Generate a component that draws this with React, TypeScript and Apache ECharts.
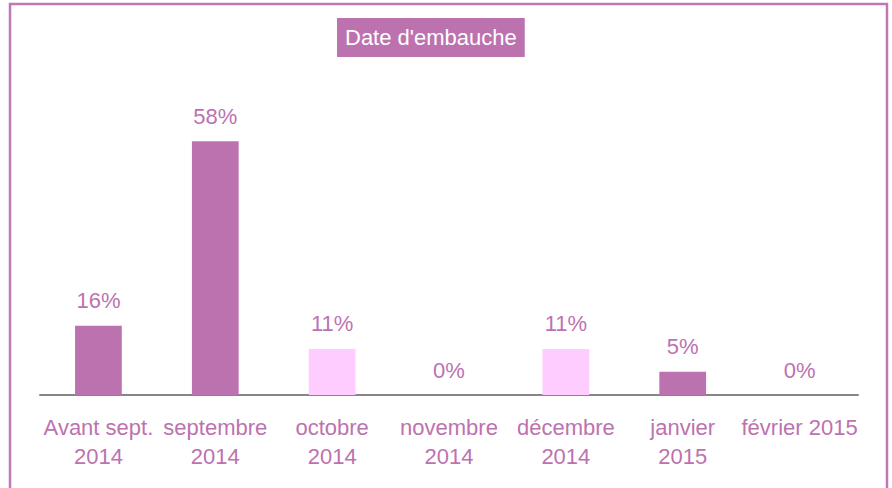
import React, { useEffect, useRef } from "react";
import * as echarts from "echarts";

const categories = [
  "Avant sept.\n2014",
  "septembre\n2014",
  "octobre\n2014",
  "novembre\n2014",
  "décembre\n2014",
  "janvier\n2015",
  "février 2015",
];
const shares = [15.8, 57.9, 10.5, 0, 10.5, 5.3, 0];
const titleText = "Date d'embauche";

const DARK = "#BC72AF";
const LIGHT = "#FFCCFF";
const barColors = [DARK, DARK, LIGHT, DARK, LIGHT, DARK, DARK];
const TEXT = "#BD72B0";
const FONT = "'Liberation Sans', Arial, sans-serif";

export default function App() {
  const ref = useRef<HTMLDivElement>(null);
  useEffect(() => {
    if (!ref.current) return;
    const chart = echarts.init(ref.current, null, { renderer: "svg" });
    chart.setOption({
      animation: false,
      backgroundColor: "#ffffff",
      textStyle: { fontFamily: FONT },
      title: {
        text: titleText,
        left: 337,
        top: 18,
        backgroundColor: DARK,
        padding: [6, 8],
        textStyle: {
          color: "#ffffff",
          fontSize: 22,
          fontWeight: "normal",
          fontFamily: FONT,
          lineHeight: 27,
        },
      },
      graphic: [
        {
          type: "rect",
          shape: { x: 10, y: 4, width: 877, height: 500 },
          style: { fill: "none", stroke: "#C077B6", lineWidth: 2.5 },
          silent: true,
        },
      ],
      grid: { left: 40, right: 34, top: 132, bottom: 93 },
      xAxis: {
        type: "category",
        data: categories,
        axisLine: { show: true, lineStyle: { color: "#868686", width: 2 } },
        axisTick: { show: false },
        axisLabel: {
          color: TEXT,
          fontSize: 22,
          fontFamily: FONT,
          margin: 18,
          lineHeight: 29,
          interval: 0,
        },
      },
      yAxis: {
        type: "value",
        min: 0,
        max: 60,
        show: false,
        splitLine: { show: false },
      },
      series: [
        {
          type: "bar",
          barWidth: "40%",
          data: shares.map((v, i) => ({ value: v, itemStyle: { color: barColors[i] } })),
          label: {
            show: true,
            position: "top",
            distance: 14,
            color: TEXT,
            fontSize: 22,
            fontFamily: FONT,
            formatter: (p: any) => Math.round(p.value) + "%",
          },
        },
      ],
    });
    return () => chart.dispose();
  }, []);
  return (
    <div
      ref={ref}
      style={{ position: "fixed", left: 0, top: 0, width: 892, height: 488 }}
    />
  );
}
